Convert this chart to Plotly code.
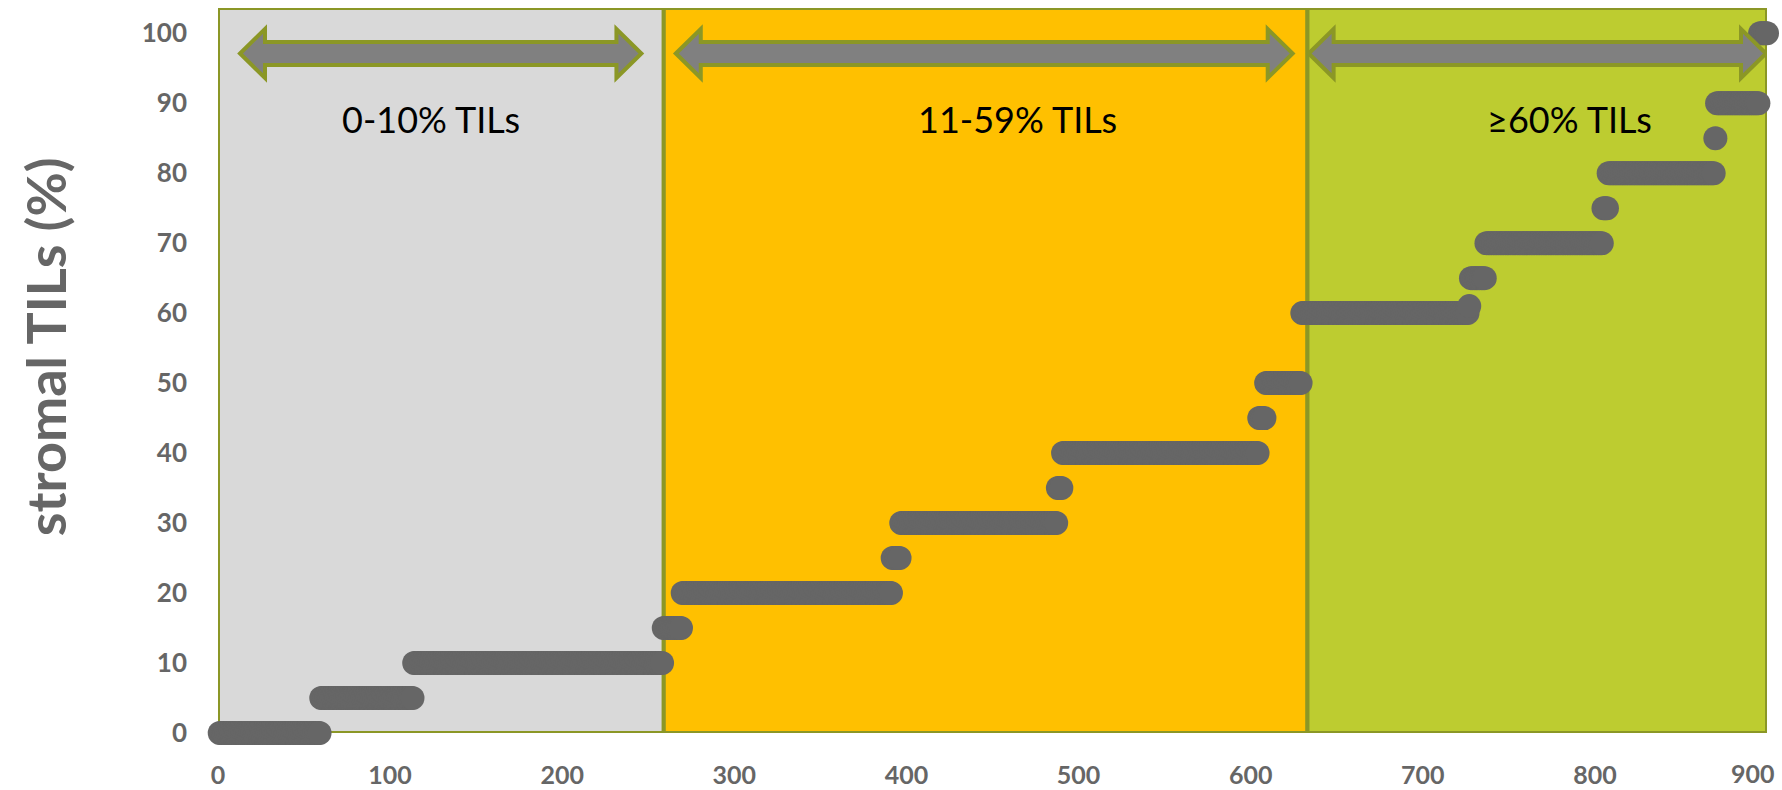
import numpy as np
import plotly.graph_objects as go

# ---- data ----
til_levels = [0, 5, 10, 15, 20, 25, 30, 35, 40, 45, 50, 60, 61, 65, 70, 75, 80, 85, 90, 100]
til_counts = [59, 54, 145, 11, 122, 5, 91, 3, 114, 4, 21, 97, 1, 9, 68, 3, 62, 1, 25, 5]

region_bounds = [0, 259, 633, 900]
region_labels = ["0-10% TILs", "11-59% TILs", "≥60% TILs"]
region_label_x = [124, 464.5, 785.5]
region_label_y = 87.7
region_colors = ["#D9D9D9", "#FFC000", "#BDCC30"]
arrow_spans = [(12.8, 246.0), (266.0, 624.4), (633.7, 899.4)]
arrow_y = 97.1

x_ticks = [0, 100, 200, 300, 400, 500, 600, 700, 800, 900]
y_ticks = [0, 10, 20, 30, 40, 50, 60, 70, 80, 90, 100]

# sorted per-patient values (rank on x)
y_vals = np.repeat(til_levels, til_counts)
x_vals = np.arange(1, len(y_vals) + 1)

OLIVE = "#8B9726"
GRAY_TXT = "#666666"

fig = go.Figure()

fig.add_trace(go.Scatter(
    x=x_vals, y=y_vals, mode="markers",
    marker=dict(size=24, color="#666666", line=dict(width=0)),
    cliponaxis=False, hoverinfo="x+y", showlegend=False,
))

shapes = []
for i in range(3):
    shapes.append(dict(
        type="rect", xref="x", yref="y",
        x0=region_bounds[i], x1=region_bounds[i + 1], y0=0, y1=103.6,
        fillcolor=region_colors[i], line=dict(color=OLIVE, width=4), layer="below",
    ))

# double-headed arrows
sh = 1.64   # shaft half-height (y units)
hh = 3.5    # head half-height
hl = 14.5   # head length (x units)
for (a, b) in arrow_spans:
    y = arrow_y
    path = (f"M {a},{y} L {a+hl},{y+hh} L {a+hl},{y+sh} L {b-hl},{y+sh} L {b-hl},{y+hh} "
            f"L {b},{y} L {b-hl},{y-hh} L {b-hl},{y-sh} L {a+hl},{y-sh} L {a+hl},{y-hh} Z")
    shapes.append(dict(type="path", xref="x", yref="y", path=path,
                       fillcolor="#808080", line=dict(color=OLIVE, width=4), layer="above"))

annotations = []
for lbl, lx in zip(region_labels, region_label_x):
    annotations.append(dict(
        x=lx, y=region_label_y, xref="x", yref="y", text=lbl, showarrow=False,
        font=dict(family="Lato", size=36, color="#000000"),
    ))

# last x tick label pulled inside the page like in the original
annotations.append(dict(
    x=900, y=0, xref="x", yref="y", text="<b>900</b>", showarrow=False,
    xanchor="right", yanchor="middle", xshift=10, yshift=-40,
    font=dict(family="Lato", size=25, color=GRAY_TXT),
))

# y axis title
annotations.append(dict(
    x=0, y=0.532, xref="paper", yref="paper", text="<b>stromal TILs (%)</b>",
    textangle=-90, showarrow=False, xanchor="center", yanchor="middle", xshift=-173,
    font=dict(family="Lato", size=54, color=GRAY_TXT),
))

fig.update_layout(
    width=1782, height=790,
    margin=dict(l=218, r=15, t=8, b=57, autoexpand=False),
    paper_bgcolor="white", plot_bgcolor="white",
    shapes=shapes, annotations=annotations,
    showlegend=False,
    xaxis=dict(
        range=[0, 900], tickvals=x_ticks[:-1],
        ticktext=[f"<b>{t}</b>" for t in x_ticks[:-1]],
        showgrid=False, zeroline=False, showline=False, ticks="",
        ticklabelstandoff=25, automargin=False,
        tickfont=dict(family="Lato", size=25, color=GRAY_TXT),
    ),
    yaxis=dict(
        range=[0, 103.6], tickvals=y_ticks,
        ticktext=[f"<b>{t}</b>" for t in y_ticks],
        showgrid=False, zeroline=False, showline=False, ticks="",
        ticklabelstandoff=30, automargin=False,
        tickfont=dict(family="Lato", size=26, color=GRAY_TXT),
    ),
)

fig.write_html("out.html")
